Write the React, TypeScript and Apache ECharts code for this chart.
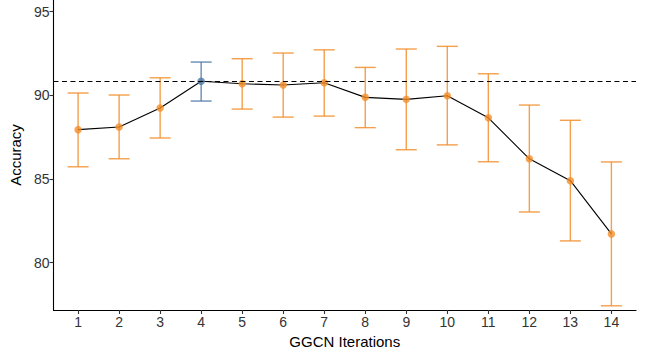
import React, { useEffect, useRef } from "react";
import * as echarts from "echarts";

// GGCN iteration count vs. accuracy, with error bars (lower/upper bounds)
const iterations = [1, 2, 3, 4, 5, 6, 7, 8, 9, 10, 11, 12, 13, 14];
const accuracy = [87.95, 88.11, 89.24, 90.84, 90.69, 90.62, 90.75, 89.88, 89.76, 89.98, 88.66, 86.21, 84.9, 81.72];
const lower = [85.73, 86.21, 87.45, 89.66, 89.18, 88.7, 88.76, 88.07, 86.75, 87.04, 86.03, 83.03, 81.3, 77.42];
const upper = [90.14, 90.02, 91.05, 91.99, 92.19, 92.53, 92.72, 91.67, 92.77, 92.93, 91.29, 89.42, 88.51, 86.02];
const bestIteration = 4;
const bestAccuracy = 90.84;
const yTicks = [80, 85, 90, 95];

const ORANGE = "#F28E2B";
const BLUE = "#4E79A7";

const colorFor = (it: number) => (it === bestIteration ? BLUE : ORANGE);

export default function App() {
  const ref = useRef<HTMLDivElement>(null);

  useEffect(() => {
    if (!ref.current) return;
    const chart = echarts.init(ref.current, undefined, { renderer: "svg" });

    const errData = iterations.map((it, i) => [it, lower[i], upper[i]]);
    const lineData = iterations.map((it, i) => [it, accuracy[i]]);
    const pointData = iterations.map((it, i) => ({
      value: [it, accuracy[i]],
      itemStyle: { color: colorFor(it) },
    }));

    chart.setOption({
      animation: false,
      backgroundColor: "#ffffff",
      textStyle: { fontFamily: "Liberation Sans, Arial, sans-serif" },
      grid: { left: 53, right: 21, top: 0, bottom: 48 },
      xAxis: {
        type: "value",
        min: 0.4,
        max: 14.6,
        name: "GGCN Iterations",
        nameLocation: "middle",
        nameGap: 23,
        nameTextStyle: { fontSize: 15, color: "#000" },
        axisLine: { onZero: false, lineStyle: { color: "#000", width: 1.1 } },
        axisTick: { show: true, length: 4, customValues: iterations, lineStyle: { color: "#333", width: 1.1 } },
        axisLabel: { customValues: iterations, fontSize: 14, color: "#333", margin: 5 },
        splitLine: { show: false },
      },
      yAxis: {
        type: "value",
        min: 77.17,
        max: 95.7,
        name: "Accuracy",
        nameLocation: "middle",
        nameGap: 29,
        nameTextStyle: { fontSize: 15, color: "#000" },
        axisLine: { show: true, lineStyle: { color: "#000", width: 1.1 } },
        axisTick: { show: true, length: 4, customValues: yTicks, lineStyle: { color: "#333", width: 1.1 } },
        axisLabel: { customValues: yTicks, fontSize: 14, color: "#333", margin: 4 },
        splitLine: { show: false },
      },
      series: [
        {
          type: "custom",
          z: 1,
          data: errData,
          renderItem: (params: any, api: any) => {
            const x = api.value(0);
            const lo = api.coord([x, api.value(1)]);
            const hi = api.coord([x, api.value(2)]);
            const half = 10.5;
            const color = colorFor(x);
            const style = { stroke: color, lineWidth: 1.4, opacity: 0.85 };
            return {
              type: "group",
              children: [
                { type: "line", shape: { x1: lo[0], y1: lo[1], x2: hi[0], y2: hi[1] }, style },
                { type: "line", shape: { x1: lo[0] - half, y1: lo[1], x2: lo[0] + half, y2: lo[1] }, style },
                { type: "line", shape: { x1: hi[0] - half, y1: hi[1], x2: hi[0] + half, y2: hi[1] }, style },
              ],
            };
          },
        },
        {
          type: "line",
          z: 2,
          data: lineData,
          showSymbol: false,
          lineStyle: { color: "#000", width: 1.1 },
          markLine: {
            silent: true,
            symbol: "none",
            label: { show: false },
            lineStyle: { color: "#000", type: [5, 3.5], width: 1.1 },
            data: [{ yAxis: bestAccuracy }],
          },
        },
        {
          type: "scatter",
          z: 3,
          symbolSize: 7.5,
          data: pointData,
        },
      ],
    });

    return () => chart.dispose();
  }, []);

  return <div ref={ref} style={{ width: 657, height: 358, position: "absolute", left: 0, top: 0 }} />;
}
